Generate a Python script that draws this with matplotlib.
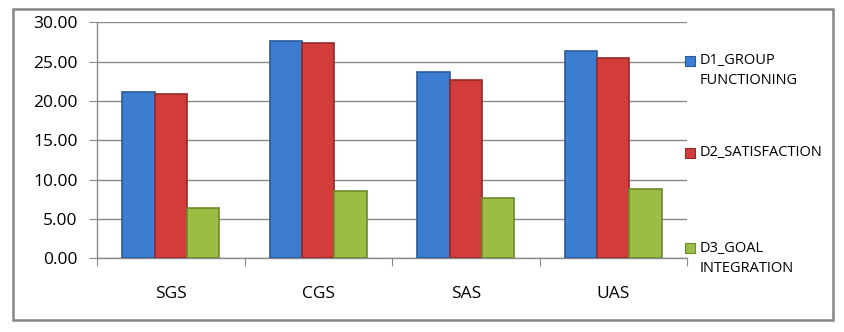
import matplotlib
matplotlib.use("Agg")
import matplotlib.pyplot as plt
import numpy as np
from matplotlib.patches import Rectangle

categories = ["SGS", "CGS", "SAS", "UAS"]
series_names = ["D1_GROUP\nFUNCTIONING", "D2_SATISFACTION", "D3_GOAL\nINTEGRATION"]
d1_group_functioning = [21.13, 27.60, 23.67, 26.35]
d2_satisfaction = [20.88, 27.36, 22.65, 25.40]
d3_goal_integration = [6.35, 8.51, 7.66, 8.77]
yticks = [0, 5, 10, 15, 20, 25, 30]

plt.rcParams['font.family'] = ['Open Sans', 'DejaVu Sans']

W, H = 845, 332
fig = plt.figure(figsize=(W / 100, H / 100), dpi=100)
fig.patches.append(Rectangle((13 / W, 1 - 320 / H), (833 - 13) / W, (320 - 8.5) / H,
                             transform=fig.transFigure, fill=False,
                             edgecolor="#868686", linewidth=1.8, zorder=0))

ax = fig.add_axes([97 / W, 1 - 258.3 / H, (687 - 97) / W, (258.3 - 22.3) / H])

colors = ["#3c7dd1", "#d23d3b", "#9bbd44"]
edges = ["#2a5a9a", "#932a28", "#6b8a2a"]
vals = [d1_group_functioning, d2_satisfaction, d3_goal_integration]
x = np.arange(len(categories))
bw = 0.22
for i, (v, c, e) in enumerate(zip(vals, colors, edges)):
    ax.bar(x + (i - 1) * bw, v, width=bw, color=c, edgecolor=e,
           linewidth=1.2, zorder=3, label=series_names[i])

ax.set_xlim(-0.5, 3.5)
ax.set_ylim(0, 30)
ax.set_yticks(yticks)
ax.set_yticklabels([f"{t:.2f}" for t in yticks], fontsize=12.5)
ax.yaxis.grid(True, color="#8a8a8a", linewidth=1, zorder=0)
ax.set_axisbelow(True)
ax.set_xticks([-0.5, 0.5, 1.5, 2.5, 3.5])
ax.set_xticklabels([])
ax.set_xticks(x, minor=True)
ax.set_xticklabels(categories, minor=True, fontsize=12.5)
ax.tick_params(axis="x", which="minor", length=0, pad=20)
ax.tick_params(axis="x", which="major", length=6, color="#8a8a8a")
ax.tick_params(axis="y", length=6, color="#8a8a8a", pad=8)
for s in ["top", "right"]:
    ax.spines[s].set_visible(False)
for s in ["left", "bottom"]:
    ax.spines[s].set_color("#8a8a8a")
    ax.spines[s].set_linewidth(1)

# legend entries
leg_y = [61, 153, 248]
line_gap = 20
for i, (yy, c, e) in enumerate(zip(leg_y, colors, edges)):
    fig.patches.append(Rectangle((685 / W, 1 - (yy + 5) / H), 10 / W, 10 / H,
                                 transform=fig.transFigure, facecolor=c,
                                 edgecolor=e, linewidth=0.8))
    for j, line in enumerate(series_names[i].split("\n")):
        fig.text(700 / W, 1 - (yy + j * line_gap) / H, line, fontsize=10.5,
                 va="center", ha="left", transform=fig.transFigure)

fig.savefig("out.png", dpi=100)
